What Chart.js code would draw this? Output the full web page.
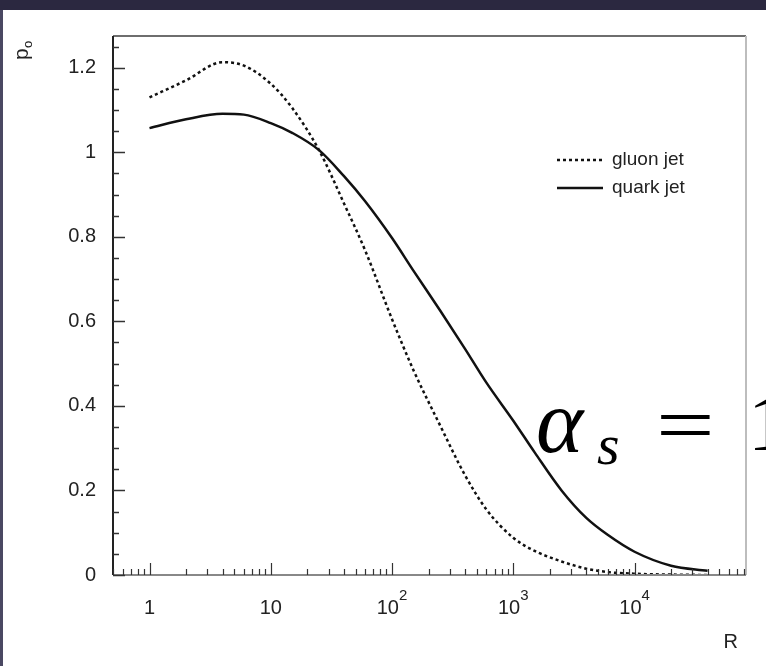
<!DOCTYPE html>
<html>
<head>
<meta charset="utf-8">
<script src="https://cdn.jsdelivr.net/npm/chart.js@4/dist/chart.umd.min.js"></script>
<style>
  html, body { margin: 0; padding: 0; background: #ffffff; }
  canvas { display: block; }
</style>
</head>
<body>
<canvas id="p0Chart" width="766" height="666"></canvas>
<script>
// R values (log axis) and p0 for both jet types
const rValues = [1, 2, 4, 6, 10, 15, 25, 40, 60, 100, 150, 250, 400, 600, 1000, 1500, 2500, 4000, 6000, 10000, 20000, 40000];
const gluonP0 = [1.130, 1.170, 1.213, 1.205, 1.162, 1.105, 1.005, 0.880, 0.768, 0.605, 0.485, 0.353, 0.236, 0.155, 0.088, 0.057, 0.032, 0.015, 0.007, 0.003, 0.001, 0.000];
const quarkP0 = [1.057, 1.078, 1.091, 1.089, 1.069, 1.046, 1.005, 0.944, 0.884, 0.797, 0.720, 0.625, 0.535, 0.455, 0.365, 0.290, 0.200, 0.135, 0.095, 0.055, 0.022, 0.010];

const xDecades = [1, 10, 100, 1000, 10000];
const xDecadeLabels = [["1", ""], ["10", ""], ["10", "2"], ["10", "3"], ["10", "4"]];

const legendItems = [
  { label: "gluon jet", dash: [3, 3] },
  { label: "quark jet", dash: [] },
];

const tickFont = "20px 'Liberation Sans', Arial, sans-serif";
const expFont = "15px 'Liberation Sans', Arial, sans-serif";
const serif = "'Liberation Serif', 'DejaVu Serif', serif";

function toPoints(ys) {
  return rValues.map((r, i) => ({ x: r, y: ys[i] }));
}

// frame, inward ticks, decade labels, legend and annotation
const decorations = {
  id: "decorations",
  beforeDraw(chart) {
    const c = chart.ctx;
    c.save();
    c.fillStyle = "#ffffff";
    c.fillRect(0, 0, chart.width, chart.height);
    c.fillStyle = "#2b2840";
    c.fillRect(0, 0, chart.width, 10);
    c.fillStyle = "#4a4862";
    c.fillRect(0, 10, 3, chart.height - 10);
    c.restore();
  },
  afterDraw(chart) {
    const c = chart.ctx;
    const a = chart.chartArea;
    const xs = chart.scales.x;
    const ys = chart.scales.y;
    c.save();

    // frame
    c.lineWidth = 2;
    c.strokeStyle = "#6e6e6e";
    c.beginPath();
    c.moveTo(a.left, a.top);
    c.lineTo(a.right, a.top);
    c.stroke();
    c.strokeStyle = "#bdbdbd";
    c.beginPath();
    c.moveTo(a.right, a.top);
    c.lineTo(a.right, a.bottom);
    c.stroke();
    c.strokeStyle = "#222222";
    c.beginPath();
    c.moveTo(a.left, a.top);
    c.lineTo(a.left, a.bottom);
    c.stroke();
    c.strokeStyle = "#888888";
    c.beginPath();
    c.moveTo(a.left, a.bottom);
    c.lineTo(a.right, a.bottom);
    c.stroke();

    // y ticks every 0.05, long ones every 0.2
    c.lineWidth = 1.5;
    c.strokeStyle = "#333333";
    for (let k = 0; k * 0.05 <= ys.max + 1e-9; k++) {
      const py = Math.round(ys.getPixelForValue(k * 0.05)) + 0.5;
      const len = k % 4 === 0 ? 12 : 6;
      c.beginPath();
      c.moveTo(a.left, py);
      c.lineTo(a.left + len, py);
      c.stroke();
    }

    // x ticks at 1..9 of every decade
    c.lineWidth = 1.2;
    for (let d = 0.1; d <= xs.max; d *= 10) {
      for (let m = 1; m <= 9; m++) {
        const v = d * m;
        if (v < xs.min || v > xs.max) continue;
        const px = Math.round(xs.getPixelForValue(v)) + 0.5;
        const len = m === 1 ? 12 : 6;
        c.beginPath();
        c.moveTo(px, a.bottom);
        c.lineTo(px, a.bottom - len);
        c.stroke();
      }
    }

    // decade labels with raised exponents
    c.fillStyle = "#222222";
    c.textBaseline = "alphabetic";
    xDecades.forEach((v, i) => {
      const [base, exp] = xDecadeLabels[i];
      const px = xs.getPixelForValue(v);
      c.font = tickFont;
      const bw = c.measureText(base).width;
      c.font = expFont;
      const ew = exp ? c.measureText(exp).width : 0;
      const left = px - (bw + ew) / 2;
      c.font = tickFont;
      c.textAlign = "left";
      c.fillText(base, left, 614);
      if (exp) {
        c.font = expFont;
        c.fillText(exp, left + bw, 600);
      }
    });

    // axis titles
    c.font = tickFont;
    c.textAlign = "right";
    c.fillText("R", 738, 648);
    c.save();
    c.translate(28, 60);
    c.rotate(-Math.PI / 2);
    c.textAlign = "left";
    c.font = "21px 'Liberation Sans', Arial, sans-serif";
    c.fillText("p", 0, 0);
    c.font = "13px 'Liberation Sans', Arial, sans-serif";
    c.fillText("o", 12, 4);
    c.restore();

    // legend
    legendItems.forEach((item, i) => {
      const ly = 160 + i * 28;
      c.lineWidth = 2.5;
      c.strokeStyle = "#111111";
      c.setLineDash(item.dash);
      c.beginPath();
      c.moveTo(557, ly);
      c.lineTo(603, ly);
      c.stroke();
      c.setLineDash([]);
      c.font = "19px 'Liberation Sans', Arial, sans-serif";
      c.fillStyle = "#222222";
      c.textAlign = "left";
      c.textBaseline = "middle";
      c.fillText(item.label, 612, ly);
    });

    // coupling label
    c.fillStyle = "#000000";
    c.textBaseline = "alphabetic";
    c.textAlign = "left";
    c.font = "italic 90px " + serif;
    c.fillText("\u03b1", 536, 452);
    c.font = "italic 58px " + serif;
    c.fillText("s", 597, 464);
    c.save();
    c.translate(656, 452);
    c.scale(1.3, 1);
    c.font = "80px " + serif;
    c.fillText("=", 0, 0);
    c.restore();
    c.font = "80px " + serif;
    c.fillText("1", 748, 450);

    c.restore();
  },
};

const ctx = document.getElementById("p0Chart");

new Chart(ctx, {
  type: "line",
  data: {
    datasets: [
      {
        label: "gluon jet",
        data: toPoints(gluonP0),
        borderColor: "#111111",
        borderWidth: 2.5,
        borderDash: [3, 3],
        borderCapStyle: "butt",
        cubicInterpolationMode: "monotone",
        pointRadius: 0,
        fill: false,
      },
      {
        label: "quark jet",
        data: toPoints(quarkP0),
        borderColor: "#111111",
        borderWidth: 2.5,
        cubicInterpolationMode: "monotone",
        pointRadius: 0,
        fill: false,
      },
    ],
  },
  options: {
    responsive: false,
    animation: false,
    layout: {
      padding: { left: 0, top: 36, right: 20, bottom: 0 },
    },
    plugins: {
      legend: { display: false },
      tooltip: { enabled: false },
    },
    scales: {
      x: {
        type: "logarithmic",
        min: 0.5,
        max: 83000,
        grid: { display: false, drawTicks: false },
        border: { display: false },
        ticks: { display: false },
        afterFit(scale) {
          scale.height = 91;
        },
      },
      y: {
        type: "linear",
        min: 0,
        max: 1.275,
        grid: { display: false, drawTicks: false },
        border: { display: false },
        ticks: {
          stepSize: 0.2,
          includeBounds: false,
          padding: 17,
          color: "#222222",
          font: { family: "'Liberation Sans', Arial, sans-serif", size: 20 },
          callback: (value) => String(Number(value.toFixed(1))),
        },
        afterFit(scale) {
          scale.width = 113;
        },
      },
    },
  },
  plugins: [decorations],
});
</script>
</body>
</html>
